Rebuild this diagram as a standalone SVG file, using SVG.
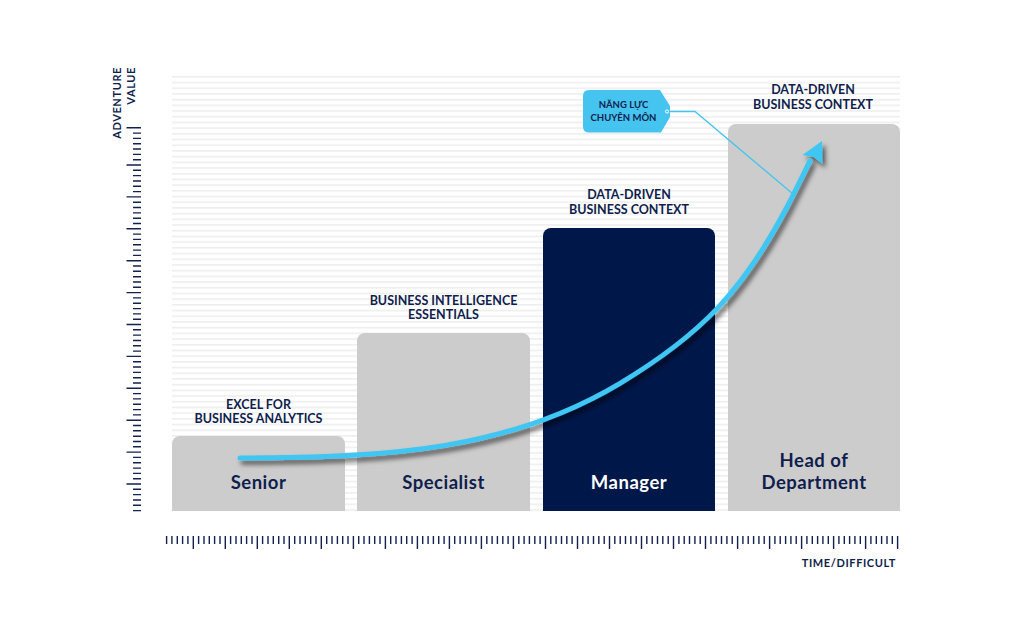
<svg xmlns="http://www.w3.org/2000/svg" width="1024" height="638" viewBox="0 0 1024 638">
  <style>
    text { font-family: Lato, "Liberation Sans", "Noto Sans", sans-serif; font-weight: 700; }
    .ttl { font-size: 12.5px; fill: #0f1e4d; text-anchor: middle; }
    .lbl { font-size: 18.5px; fill: #0f1e4d; text-anchor: middle; letter-spacing: 0.5px; }
    .lblw { font-size: 18.5px; fill: #ffffff; text-anchor: middle; letter-spacing: 0.5px; }
    .ax { font-size: 11px; fill: #0f1e4d; letter-spacing: 0.6px; }
    .co { font-size: 9.5px; fill: #0f1e4d; text-anchor: middle; }
    .bar { fill: #cccccc; }
    .tick { stroke: #13214f; stroke-width: 1.4; fill: none; }
  </style>
  <defs>
    <pattern id="stripes" patternUnits="userSpaceOnUse" x="0" y="76" width="20" height="5.7">
      <rect x="0" y="0" width="20" height="1.6" fill="#eeeeee"/>
    </pattern>
    <filter id="sh" x="-20%" y="-20%" width="140%" height="140%">
      <feDropShadow dx="3" dy="4" stdDeviation="2.5" flood-color="#000000" flood-opacity="0.6"/>
    </filter>
  </defs>

  <rect width="1024" height="638" fill="#ffffff"/>
  <rect id="stripes-bg" x="172" y="76" width="728" height="436" fill="url(#stripes)"/>

  <g id="y-axis">
    <path class="tick" d="M133 133.1h8M133 138.4h8M133 143.7h8M133 149h8M133 154.4h8M133 159.7h8M133 170.3h8M133 175.6h8M133 181h8M133 186.3h8M133 191.6h8M133 202.2h8M133 207.5h8M133 212.9h8M133 218.2h8M133 223.5h8M133 234.1h8M133 239.4h8M133 244.8h8M133 250.1h8M133 255.4h8M133 266h8M133 271.3h8M133 276.7h8M133 282h8M133 287.3h8M133 297.9h8M133 303.2h8M133 308.6h8M133 313.9h8M133 319.2h8M133 329.8h8M133 335.1h8M133 340.5h8M133 345.8h8M133 351.1h8M133 361.7h8M133 367h8M133 372.4h8M133 377.7h8M133 383h8M133 393.6h8M133 398.9h8M133 404.3h8M133 409.6h8M133 414.9h8M133 425.5h8M133 430.8h8M133 436.2h8M133 441.5h8M133 446.8h8M133 457.4h8M133 462.7h8M133 468.1h8M133 473.4h8M133 478.7h8M133 489.3h8M133 494.6h8M133 500h8M133 505.3h8M133 510.6h8"/>
    <path class="tick" d="M126.5 127.8h14.5M126.5 165h14.5M126.5 196.9h14.5M126.5 228.8h14.5M126.5 260.7h14.5M126.5 292.6h14.5M126.5 324.5h14.5M126.5 356.4h14.5M126.5 388.3h14.5M126.5 420.2h14.5M126.5 452.1h14.5M126.5 484h14.5"/>
    <text class="ax" text-anchor="end" transform="translate(121,67) rotate(-90)">ADVENTURE</text>
    <text class="ax" text-anchor="end" transform="translate(135,67) rotate(-90)">VALUE</text>
  </g>

  <g id="x-axis">
    <path class="tick" d="M166.6 536v8M171.9 536v8M177.3 536v8M182.6 536v8M187.9 536v8M198.6 536v8M204 536v8M209.3 536v8M214.6 536v8M220 536v8M230.6 536v8M236 536v8M241.3 536v8M246.6 536v8M252 536v8M262.6 536v8M268 536v8M273.3 536v8M278.7 536v8M284 536v8M294.7 536v8M300 536v8M305.3 536v8M310.7 536v8M316 536v8M326.7 536v8M332 536v8M337.4 536v8M342.7 536v8M348 536v8M358.7 536v8M364 536v8M369.4 536v8M374.7 536v8M380 536v8M390.7 536v8M396 536v8M401.4 536v8M406.7 536v8M412.1 536v8M422.7 536v8M428.1 536v8M433.4 536v8M438.7 536v8M444.1 536v8M454.7 536v8M460.1 536v8M465.4 536v8M470.8 536v8M476.1 536v8M486.8 536v8M492.1 536v8M497.4 536v8M502.8 536v8M508.1 536v8M518.8 536v8M524.1 536v8M529.4 536v8M534.8 536v8M540.1 536v8M550.8 536v8M556.1 536v8M561.5 536v8M566.8 536v8M572.1 536v8M582.8 536v8M588.1 536v8M593.5 536v8M598.8 536v8M604.2 536v8M614.8 536v8M620.2 536v8M625.5 536v8M630.8 536v8M636.2 536v8M646.8 536v8M652.2 536v8M657.5 536v8M662.8 536v8M668.2 536v8M678.9 536v8M684.2 536v8M689.5 536v8M694.9 536v8M700.2 536v8M710.9 536v8M716.2 536v8M721.5 536v8M726.9 536v8M732.2 536v8M742.9 536v8M748.2 536v8M753.6 536v8M758.9 536v8M764.2 536v8M774.9 536v8M780.2 536v8M785.6 536v8M790.9 536v8M796.2 536v8M806.9 536v8M812.3 536v8M817.6 536v8M822.9 536v8M828.3 536v8M838.9 536v8M844.3 536v8M849.6 536v8M854.9 536v8M860.3 536v8M870.9 536v8M876.3 536v8M881.6 536v8M887 536v8M892.3 536v8"/>
    <path class="tick" d="M193.3 536v13M225.3 536v13M257.3 536v13M289.3 536v13M321.3 536v13M353.4 536v13M385.4 536v13M417.4 536v13M449.4 536v13M481.4 536v13M513.4 536v13M545.5 536v13M577.5 536v13M609.5 536v13M641.5 536v13M673.5 536v13M705.5 536v13M737.6 536v13M769.6 536v13M801.6 536v13M833.6 536v13M865.6 536v13M897.6 536v13"/>
    <text class="ax" text-anchor="end" x="896" y="567">TIME/DIFFICULT</text>
  </g>

  <g id="senior">
    <path class="bar" d="M172 511V444a8 8 0 0 1 8-8H337a8 8 0 0 1 8 8V511Z"/>
    <text class="ttl" x="258.5" y="408.5">EXCEL FOR</text>
    <text class="ttl" x="258.5" y="422.5">BUSINESS ANALYTICS</text>
    <text class="lbl" x="258.5" y="489">Senior</text>
  </g>

  <g id="specialist">
    <path class="bar" d="M357 511V341a8 8 0 0 1 8-8H522a8 8 0 0 1 8 8V511Z"/>
    <text class="ttl" x="443.5" y="304.5">BUSINESS INTELLIGENCE</text>
    <text class="ttl" x="443.5" y="319">ESSENTIALS</text>
    <text class="lbl" x="443.5" y="489">Specialist</text>
  </g>

  <g id="manager">
    <path d="M543 511V236a8 8 0 0 1 8-8H707a8 8 0 0 1 8 8V511Z" fill="#00174a"/>
    <text class="ttl" x="629" y="199">DATA-DRIVEN</text>
    <text class="ttl" x="629" y="213.5">BUSINESS CONTEXT</text>
    <text class="lblw" x="629" y="489">Manager</text>
  </g>

  <g id="head-of-department">
    <path class="bar" d="M728 511V132a8 8 0 0 1 8-8H892a8 8 0 0 1 8 8V511Z"/>
    <text class="ttl" x="813" y="94">DATA-DRIVEN</text>
    <text class="ttl" x="813" y="108.5">BUSINESS CONTEXT</text>
    <text class="lbl" x="814" y="467">Head of</text>
    <text class="lbl" x="814" y="489">Department</text>
  </g>

  <g id="callout">
    <path d="M589 90H660L670 106V117L661 132.5H589Q583 132.5 583 126.5V96Q583 90 589 90Z" fill="#45c4ef"/>
    <circle cx="667" cy="111.5" r="1.6" fill="#45c4ef" stroke="#ffffff" stroke-width="1"/>
    <text class="co" x="623.5" y="108.3">NĂNG LỰC</text>
    <text class="co" x="623.5" y="120.7">CHUYÊN MÔN</text>
  </g>

  <g id="connectors">
    <path d="M669 111.5H695L793 194" fill="none" stroke="#45c4ef" stroke-width="1.3"/>
    <g id="growth-arrow" filter="url(#sh)">
      <path d="M240 458C390 458 510 449.3 620 383.3C701.4 334.5 743.1 290.4 787 207C795 191.8 806.6 167.7 810 161" fill="none" stroke="#3fc6f2" stroke-width="5" stroke-linecap="round"/>
      <path d="M822 141L802.5 155L813.5 157L822.5 164Z" fill="#3fc6f2"/>
    </g>
  </g>
</svg>
